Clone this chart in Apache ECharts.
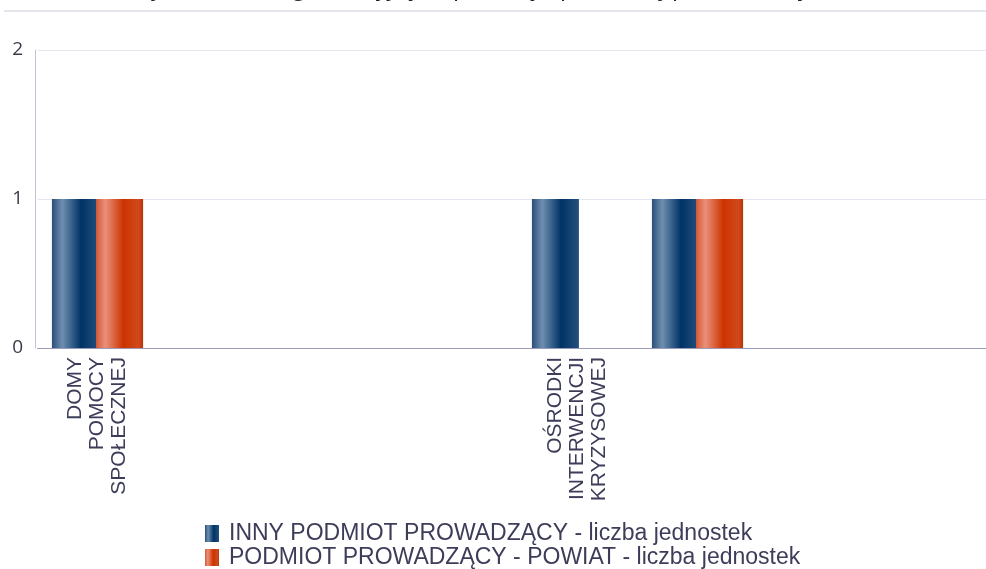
<!DOCTYPE html>
<html>
<head>
<meta charset="utf-8">
<script src="https://cdn.jsdelivr.net/npm/echarts@6/dist/echarts.min.js"></script>
<style>html,body{margin:0;padding:0;background:#fff}#c{width:986px;height:569px}</style>
</head>
<body>
<div id="c"></div>
<script>
const titleText = 'Liczba jednostek organizacyjnych pomocy społecznej prowadzonych';
const categories = [
  'DOMY POMOCY SPOŁECZNEJ',
  'PLACÓWKI OPIEKUŃCZO-WYCHOWAWCZE',
  'OŚRODKI WSPARCIA',
  'MIESZKANIA CHRONIONE',
  'OŚRODKI INTERWENCJI KRYZYSOWEJ',
  'POWIATOWE CENTRA POMOCY RODZINIE',
  'OŚRODKI ADOPCYJNE',
  'INNE JEDNOSTKI'
];
const seriesNames = ['INNY PODMIOT PROWADZĄCY - liczba jednostek', 'PODMIOT PROWADZĄCY - POWIAT - liczba jednostek'];
const innyValues = [1, 0, 0, 0, 1, 1, 0, 0];
const powiatValues = [1, 0, 0, 0, 0, 1, 0, 0];
const yTicks = [0, 1, 2];

const blueGrad = new echarts.graphic.LinearGradient(0, 0, 1, 0, [
  {offset: 0, color: '#2a4f7a'},
  {offset: 0.22, color: '#6f8fb0'},
  {offset: 0.62, color: '#003366'},
  {offset: 1, color: '#244f7c'}
]);
const orangeGrad = new echarts.graphic.LinearGradient(0, 0, 1, 0, [
  {offset: 0, color: '#d65a36'},
  {offset: 0.2, color: '#e8907a'},
  {offset: 0.58, color: '#cc3300'},
  {offset: 0.9, color: '#d04a1c'},
  {offset: 1, color: '#b83208'}
]);

const chart = echarts.init(document.getElementById('c'), null, {renderer: 'canvas'});
chart.setOption({
  backgroundColor: '#ffffff',
  animation: false,
  title: {
    text: titleText,
    left: 72,
    top: -29,
    textStyle: {fontFamily: 'Open Sans', fontSize: 24, fontWeight: 'normal', color: '#222'}
  },
  graphic: [{
    type: 'rect', left: 4, top: 10, shape: {width: 982, height: 2},
    style: {fill: '#e4e4ec'}, silent: true
  }],
  grid: {left: 37.5, top: 50, width: 960, height: 298, containLabel: false, outerBoundsMode: 'none'},
  legend: {
    orient: 'vertical',
    left: 205,
    top: 522,
    height: 60,
    padding: 0,
    itemWidth: 14,
    itemHeight: 17,
    itemGap: 1,
    icon: 'rect',
    textStyle: {fontFamily: 'Liberation Sans', fontSize: 23, lineHeight: 22, color: '#3d3d5a', padding: [0,0,0,5]},
    data: seriesNames
  },
  xAxis: {
    type: 'category',
    data: categories,
    axisLine: {lineStyle: {color: '#9b9db8', width: 1}},
    axisTick: {show: false},
    axisLabel: {
      interval: 3,
      rotate: 90,
      margin: 9,
      fontFamily: 'Liberation Sans',
      fontSize: 21,
      lineHeight: 22,
      color: '#3d3d5a',
      formatter: v => v.split(' ').join('\n')
    }
  },
  yAxis: {
    type: 'value',
    min: 0, max: 2, interval: 1,
    offset: 2.5,
    axisLine: {show: true, lineStyle: {color: '#c2c4d6'}},
    axisTick: {show: false},
    splitLine: {lineStyle: {color: '#e6e6f0'}},
    axisLabel: {
      margin: 12,
      fontFamily: 'Open Sans',
      fontSize: 19,
      color: '#3a3a48',
      formatter: v => yTicks.includes(v) ? String(v) : ''
    }
  },
  series: [
    {name: seriesNames[0], type: 'bar', data: innyValues, barWidth: 47, barGap: '-6%',
     itemStyle: {color: blueGrad}},
    {name: seriesNames[1], type: 'bar', data: powiatValues, barWidth: 47, barGap: '-6%',
     itemStyle: {color: orangeGrad}}
  ]
});
</script>
</body>
</html>
